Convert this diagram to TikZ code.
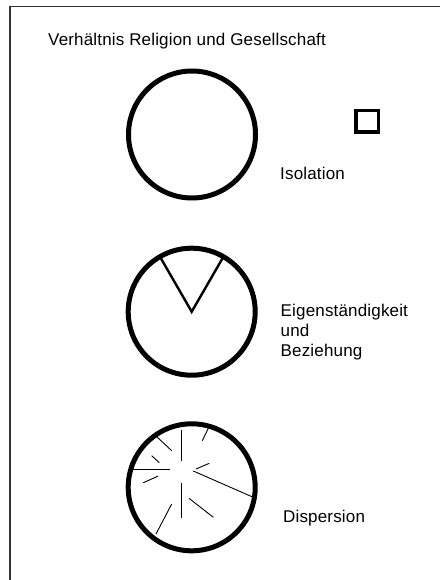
\documentclass[tikz,border=0pt]{standalone}
\usepackage{fontspec}
\setmainfont[LetterSpace=1]{Liberation Sans}
\usetikzlibrary{positioning,calc}

\begin{document}
\begin{tikzpicture}[x=1pt, y=-1pt,
    ring/.style={circle, draw=black, line width=5pt, minimum size=127pt, inner sep=0pt},
    lbl/.style={font=\fontsize{17}{19.7}\selectfont, inner sep=0pt, align=left},
    vline/.style={line width=2.4pt, black},
    spoke/.style={line width=0.9pt, black},
    frame/.style={line width=1.3pt, black!80},
]
\useasboundingbox (0,0) rectangle (440,580);

% page frame (open to the right and bottom)
\draw[frame] (440,6.7) -- (10,6.7) -- (10,580);

% title
\node[lbl, anchor=base west] (title) at (48,45.7) {Verhältnis Religion und Gesellschaft};

% Isolation
\node[ring] (iso) at (192,134.5) {};
\node[rectangle, draw=black, line width=3.5pt, minimum width=22.5pt, minimum height=21.5pt, inner sep=0pt] (box) at (367,121.5) {};
\node[lbl, anchor=base west] (isotxt) at (280,179) {Isolation};

% Eigenstaendigkeit und Beziehung (base = last line)
\node[ring] (eig) at (191.7,311.7) {};
\draw[vline] (eig.center) ++(-31,-53.7) -- (eig.center) -- ++(31,-53.7);
\node[lbl, anchor=base west] (eigtxt) at (280.5,356.1) {Eigenständigkeit\\und\\Beziehung};

% Dispersion
\node[ring] (disp) at (191.7,487.3) {};
\begin{scope}[shift={(disp.center)}]
  \draw[spoke] (-35,-50.6) -- (-20,-36.6);
  \draw[spoke] (-10.7,-57.3) -- (-10.7,-26.6);
  \draw[spoke] (16.6,-59) -- (10.6,-46.6);
  \draw[spoke] (-40,-31.6) -- (-32.4,-24.6);
  \draw[spoke] (-58.4,-18.3) -- (-21.7,-18.3);
  \draw[spoke] (17.6,-24) -- (4.3,-18.3);
  \draw[spoke] (-48.4,-4.6) -- (-33.4,-11.3);
  \draw[spoke] (1.6,-16.3) -- (61.6,10);
  \draw[spoke] (-10,-4) -- (-10,31);
  \draw[spoke] (-2.7,11) -- (21.6,30);
  \draw[spoke] (-20,16.7) -- (-35.7,46.7);
\end{scope}
\node[lbl, anchor=base west] (disptxt) at (283,522.7) {Dispersion};
\end{tikzpicture}
\end{document}
